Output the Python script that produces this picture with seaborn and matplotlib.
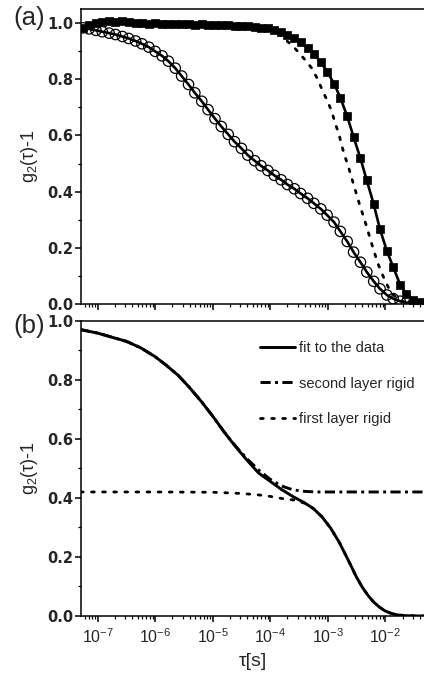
import numpy as np
import pandas as pd
import matplotlib
matplotlib.use("Agg")
import matplotlib.pyplot as plt
import seaborn as sns

# ---------------- panel (a): measured correlation functions ----------------
# log10(tau / s) of the correlator channels
logtau_open = [-7.26, -7.15, -7.03, -6.92, -6.80, -6.69, -6.57, -6.46, -6.34, -6.23,
               -6.11, -6.00, -5.88, -5.77, -5.65, -5.54, -5.42, -5.31, -5.19, -5.08,
               -4.96, -4.85, -4.73, -4.62, -4.50, -4.39, -4.27, -4.16, -4.04, -3.93,
               -3.81, -3.70, -3.58, -3.47, -3.35, -3.24, -3.12, -3.01, -2.89, -2.78,
               -2.66, -2.55, -2.43, -2.32, -2.20, -2.09, -1.97, -1.86, -1.74, -1.63,
               -1.51]
g2_open = [0.984, 0.980, 0.975, 0.970, 0.965, 0.960, 0.953, 0.946, 0.937, 0.927,
           0.915, 0.900, 0.884, 0.865, 0.840, 0.812, 0.782, 0.752, 0.722, 0.692,
           0.660, 0.632, 0.604, 0.578, 0.554, 0.530, 0.510, 0.492, 0.475, 0.458,
           0.442, 0.425, 0.410, 0.393, 0.376, 0.358, 0.338, 0.316, 0.291, 0.258,
           0.222, 0.184, 0.148, 0.113, 0.080, 0.053, 0.031, 0.018, 0.009, 0.004,
           0.002]

logtau_filled = [-7.26, -7.15, -7.03, -6.92, -6.80, -6.69, -6.57, -6.46, -6.34, -6.23,
                 -6.11, -6.00, -5.88, -5.77, -5.65, -5.54, -5.42, -5.31, -5.19, -5.08,
                 -4.96, -4.85, -4.73, -4.62, -4.50, -4.39, -4.27, -4.16, -4.04, -3.93,
                 -3.81, -3.70, -3.58, -3.47, -3.35, -3.24, -3.12, -3.01, -2.89, -2.78,
                 -2.66, -2.55, -2.43, -2.32, -2.20, -2.09, -1.97, -1.86, -1.74, -1.63,
                 -1.51, -1.40]
g2_filled = [0.985, 0.995, 1.000, 1.005, 1.008, 1.005, 1.010, 1.005, 1.000, 1.002,
             0.998, 1.000, 0.998, 0.997, 0.998, 0.996, 0.997, 0.995, 0.996, 0.994,
             0.995, 0.993, 0.994, 0.992, 0.992, 0.990, 0.988, 0.985, 0.982, 0.977,
             0.970, 0.960, 0.948, 0.932, 0.912, 0.890, 0.862, 0.828, 0.785, 0.735,
             0.668, 0.595, 0.518, 0.440, 0.355, 0.265, 0.188, 0.130, 0.068, 0.035,
             0.015, 0.005]

# dotted curve of panel (a)
logtau_a_dot = [-4.40, -4.00, -3.90, -3.77, -3.60, -3.42, -3.28, -3.17, -3.09, -3.00,
                -2.93, -2.87, -2.80, -2.76, -2.70, -2.64, -2.60, -2.53, -2.44, -2.36,
                -2.28, -2.20, -2.12, -2.03, -1.95, -1.85, -1.75, -1.65, -1.50, -1.30]
g2_a_dot = [0.990, 0.982, 0.970, 0.948, 0.918, 0.876, 0.841, 0.799, 0.760, 0.721,
            0.686, 0.644, 0.602, 0.567, 0.525, 0.489, 0.460, 0.412, 0.350, 0.300,
            0.245, 0.190, 0.140, 0.095, 0.060, 0.030, 0.012, 0.005, 0.001, 0.000]

# ---------------- panel (b): fit and its two limiting cases ----------------
logtau_fit = [-7.30, -7.00, -6.75, -6.50, -6.25, -6.00, -5.80, -5.60, -5.40, -5.20,
              -5.00, -4.80, -4.60, -4.40, -4.20, -4.00, -3.80, -3.60, -3.40, -3.25,
              -3.10, -2.95, -2.80, -2.65, -2.50, -2.40, -2.30, -2.20, -2.10, -2.00,
              -1.90, -1.80, -1.65, -1.40, -1.30]
g2_fit = [0.970, 0.958, 0.944, 0.930, 0.908, 0.878, 0.848, 0.815, 0.773, 0.727,
          0.677, 0.623, 0.573, 0.527, 0.484, 0.456, 0.428, 0.404, 0.383, 0.364,
          0.336, 0.298, 0.250, 0.192, 0.132, 0.098, 0.070, 0.047, 0.030, 0.017,
          0.009, 0.004, 0.001, 0.000, 0.000]

logtau_second = [-7.30, -7.00, -6.75, -6.50, -6.25, -6.00, -5.80, -5.60, -5.40, -5.20,
                 -5.00, -4.80, -4.60, -4.40, -4.20, -4.00, -3.80, -3.60, -3.40, -3.20,
                 -3.00, -2.50, -2.00, -1.50, -1.30]
g2_second = [0.970, 0.958, 0.944, 0.930, 0.908, 0.878, 0.848, 0.815, 0.773, 0.727,
             0.677, 0.623, 0.575, 0.532, 0.494, 0.463, 0.440, 0.427, 0.422, 0.420,
             0.420, 0.420, 0.420, 0.420, 0.420]

logtau_first = [-7.30, -6.00, -5.00, -4.50, -4.20, -4.00, -3.80, -3.60, -3.40, -3.25,
                -3.10, -2.95, -2.80, -2.65, -2.50, -2.40, -2.30, -2.20, -2.10, -2.00,
                -1.90, -1.80, -1.65, -1.40, -1.30]
g2_first = [0.420, 0.420, 0.419, 0.415, 0.410, 0.405, 0.398, 0.393, 0.382, 0.364,
            0.336, 0.298, 0.250, 0.192, 0.132, 0.098, 0.070, 0.047, 0.030, 0.017,
            0.009, 0.004, 0.001, 0.000, 0.000]

legend_labels = ["fit to the data", "second layer rigid", "first layer rigid"]
xtick_exponents = [-7, -6, -5, -4, -3, -2]
ytick_labels = ["0.0", "0.2", "0.4", "0.6", "0.8", "1.0"]


def frame(logtau, g2):
    return pd.DataFrame({"tau": np.power(10.0, np.asarray(logtau)), "g2": g2})


sns.set_style("ticks")
plt.rcParams["font.family"] = ["Liberation Sans", "DejaVu Sans"]
plt.rcParams["mathtext.fontset"] = "custom"
plt.rcParams["mathtext.rm"] = "Liberation Sans"
plt.rcParams["mathtext.it"] = "Liberation Sans:italic"

fig = plt.figure(figsize=(4.24, 6.79), dpi=100)
ax_a = fig.add_axes([0.191, 0.5527, 0.812, 0.4336])
ax_b = fig.add_axes([0.191, 0.0928, 0.812, 0.4349])

for ax in (ax_a, ax_b):
    ax.set_xscale("log")

# ---- (a) ----
df_open = frame(logtau_open, g2_open)
df_filled = frame(logtau_filled, g2_filled)
df_adot = frame(logtau_a_dot, g2_a_dot)

sns.lineplot(data=df_adot, x="tau", y="g2", ax=ax_a, color="black", lw=2.0,
             linestyle=(0, (1, 3)), dash_capstyle="round", estimator=None, sort=False)
sns.lineplot(data=df_open, x="tau", y="g2", ax=ax_a, color="black", lw=1.9,
             estimator=None, sort=False)
sns.lineplot(data=df_filled, x="tau", y="g2", ax=ax_a, color="black", lw=1.9,
             estimator=None, sort=False)
sns.scatterplot(data=df_open, x="tau", y="g2", ax=ax_a, marker="o", s=56,
                facecolor="none", edgecolor="black", linewidth=0.9, zorder=3)
sns.scatterplot(data=df_filled, x="tau", y="g2", ax=ax_a, marker="s", s=28,
                color="black", edgecolor="black", linewidth=0.5, zorder=4)

# ---- (b) ----
df_fit = frame(logtau_fit, g2_fit)
df_second = frame(logtau_second, g2_second)
df_first = frame(logtau_first, g2_first)

sns.lineplot(data=df_fit, x="tau", y="g2", ax=ax_b, color="black", lw=2.1,
             estimator=None, sort=False, label=legend_labels[0])
sns.lineplot(data=df_second, x="tau", y="g2", ax=ax_b, color="black", lw=2.1,
             linestyle=(0, (3.5, 1.5, 1, 1.5)), estimator=None, sort=False,
             label=legend_labels[1])
sns.lineplot(data=df_first, x="tau", y="g2", ax=ax_b, color="black", lw=2.0,
             linestyle=(0, (1, 3)), dash_capstyle="round", estimator=None, sort=False,
             label=legend_labels[2])

ax_b.legend(loc="upper left", bbox_to_anchor=(0.52, 0.93), frameon=False,
            fontsize=10.5, handlelength=2.4, handletextpad=0.3,
            labelspacing=1.45, borderpad=0, borderaxespad=0)

# ---- axes styling ----
for ax, top in ((ax_a, 1.05), (ax_b, 1.0)):
    ax.set_ylim(0, top)
    ax.set_yticks([0.0, 0.2, 0.4, 0.6, 0.8, 1.0])
    ax.set_yticks(np.arange(0.1, top, 0.2), minor=True)
    ax.set_yticklabels(ytick_labels)
    ax.set_xticks([10.0 ** e for e in xtick_exponents])
    ax.set_xticks([m * 10.0 ** e for e in range(-8, -1) for m in range(2, 10)], minor=True)
    ax.set_xlim(10 ** -7.29, 10 ** -1.303)
    ax.tick_params(axis="both", which="major", direction="out", length=4, width=1.1,
                   color="black")
    ax.tick_params(axis="both", which="minor", direction="out", length=2.5, width=0.9,
                   color="black")
    ax.tick_params(axis="y", which="major", pad=1.5)
    for lab in ax.get_yticklabels():
        lab.set_fontfamily("DejaVu Sans")
        lab.set_fontweight("bold")
        lab.set_fontsize(10.5)
    for side in ("left", "bottom", "top"):
        ax.spines[side].set_visible(True)
        ax.spines[side].set_linewidth(1.1)
        ax.spines[side].set_color("black")
    ax.spines["right"].set_visible(False)
    ax.set_ylabel("g$_2$(τ)-1", fontsize=13)
    ax.yaxis.set_label_coords(-0.12, 0.5)
    ax.set_xlabel("")

ax_a.tick_params(axis="x", which="both", labelbottom=False)
ax_b.set_xticklabels([r"$\mathdefault{10^{%d}}$" % e for e in xtick_exponents], fontsize=11.5)
ax_b.tick_params(axis="x", which="major", pad=4)
ax_b.set_xlabel("τ[s]", fontsize=14)
ax_b.xaxis.set_label_coords(0.5, -0.125)

fig.text(0.031, 0.9735, "(a)", fontsize=18.5, ha="left", va="center")
fig.text(0.031, 0.52, "(b)", fontsize=18.5, ha="left", va="center")

fig.savefig("out.png", dpi=100)
